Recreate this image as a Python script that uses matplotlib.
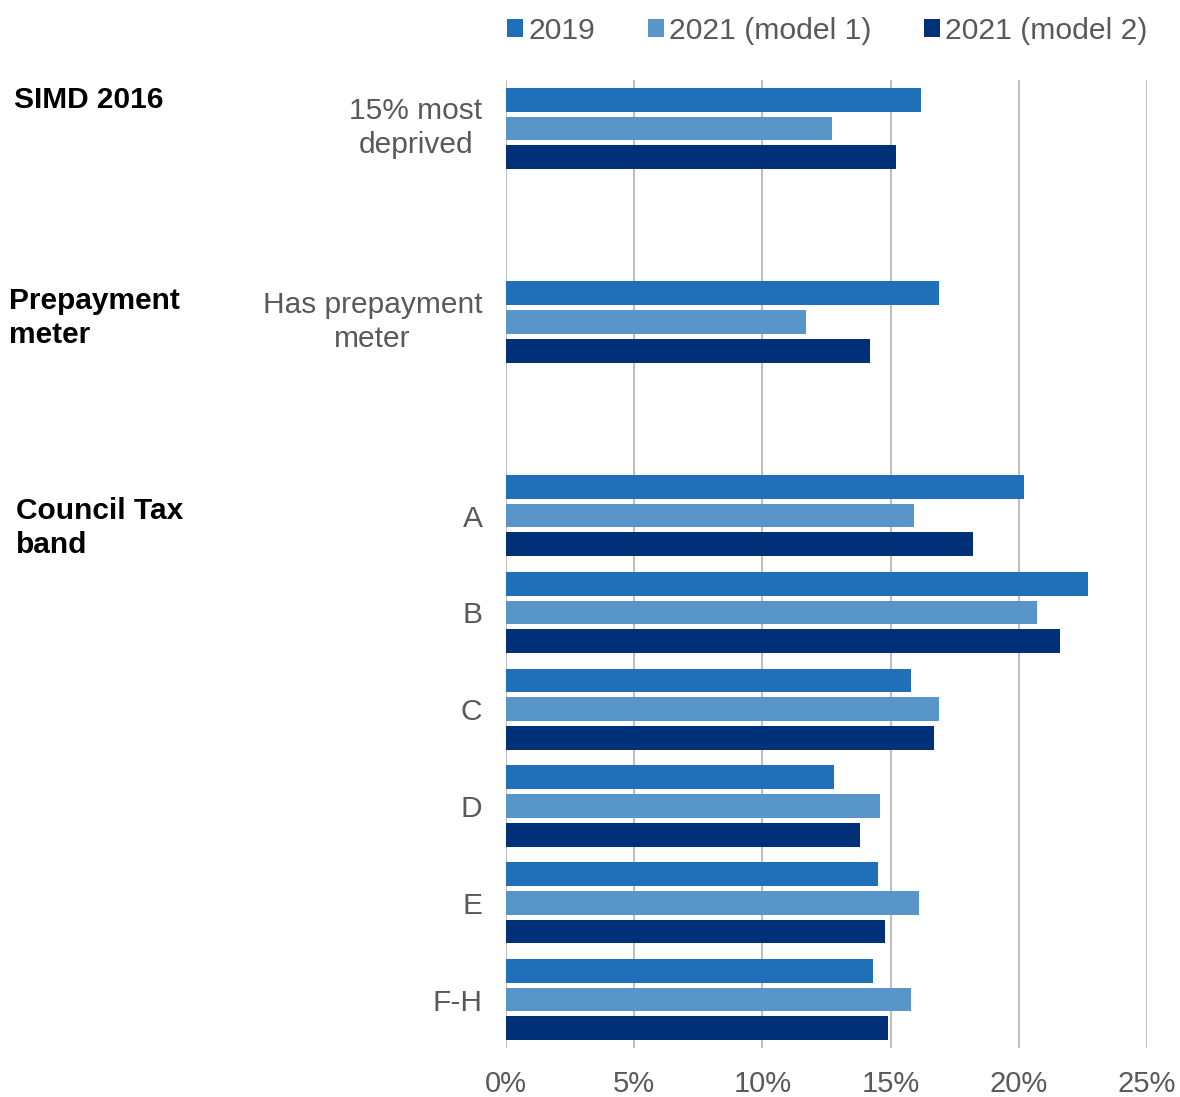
import matplotlib
matplotlib.use("Agg")
import matplotlib.pyplot as plt
from matplotlib.patches import Patch
import numpy as np

plt.rcParams['font.family'] = ['Liberation Sans', 'DejaVu Sans']

# Groups and their categories
group_names = ["SIMD 2016", "Prepayment\nmeter", "Council Tax\nband"]
group_categories = [
    ["15% most\ndeprived"],
    ["Has prepayment\nmeter"],
    ["A", "B", "C", "D", "E", "F-H"],
]

series_names = ["2019", "2021 (model 1)", "2021 (model 2)"]
values_2019 = [16.2, 16.9, 20.2, 22.7, 15.8, 12.8, 14.5, 14.3]
values_2021_m1 = [12.7, 11.7, 15.9, 20.7, 16.9, 14.6, 16.1, 15.8]
values_2021_m2 = [15.2, 14.2, 18.2, 21.6, 16.7, 13.8, 14.8, 14.9]
x_ticks = [0, 5, 10, 15, 20, 25]

colors = ["#1F70B8", "#5895C9", "#003078"]
tick_color = "#595959"
grid_color = "#BFBFBF"

W, H = 1180, 1097
fig = plt.figure(figsize=(W / 100, H / 100), dpi=100)
ax = fig.add_axes([506 / W, (H - 1048) / H, (1147 - 506) / W, (1048 - 80) / H])

# Row slots: one empty slot between consecutive groups
positions = []
slot = 0
for gi, cats in enumerate(group_categories):
    for _ in cats:
        positions.append(slot)
        slot += 1
    if gi < len(group_categories) - 1:
        slot += 1
positions = np.array(positions, dtype=float)
labels = [c for cats in group_categories for c in cats]

bar_h = 0.245
offsets = [-0.296, 0.0, 0.296]
for vals, off, col, name in zip([values_2019, values_2021_m1, values_2021_m2],
                                offsets, colors, series_names):
    ax.barh(positions + off, vals, height=bar_h, color=col, label=name, zorder=3)

ax.set_xlim(0, 25)
ax.set_ylim(slot - 0.5, -0.5)
ax.set_xticks(x_ticks)
ax.set_xticklabels([f"{t}%" for t in x_ticks])
ax.set_yticks(positions)
ax.set_yticklabels(labels, multialignment="center", linespacing=1.27)
for lbl in ax.get_yticklabels():
    if "\n" in lbl.get_text():
        lbl.set_verticalalignment("center")
ax.tick_params(axis="both", length=0, labelcolor=tick_color)
ax.tick_params(axis="x", pad=16, labelsize=21)
ax.tick_params(axis="y", pad=17, labelsize=21.5)
ax.xaxis.grid(True, color=grid_color, linewidth=1.5, zorder=0)
ax.set_axisbelow(True)
for s in ax.spines.values():
    s.set_visible(False)

# Group headings at the left edge (left x and first-line centre y, in pixels)
heading_xy = [(14, 97), (9, 298), (16, 508)]
for name, (hx, hy) in zip(group_names, heading_xy):
    fig.text(hx / W, 1 - (hy - 11) / H, name, fontsize=21.5, fontweight="bold",
             color="black", ha="left", va="top", linespacing=1.27)

handles = [Patch(facecolor=c) for c in colors]
fig.legend(handles, series_names, loc="center left",
           bbox_to_anchor=(507 / W, 1 - 31 / H), ncol=3, frameon=False,
           fontsize=21.7, handlelength=0.53, handleheight=0.53,
           handletextpad=0.17, columnspacing=1.75, borderpad=0,
           borderaxespad=0, labelcolor=tick_color)

fig.savefig("out.png", dpi=100)
